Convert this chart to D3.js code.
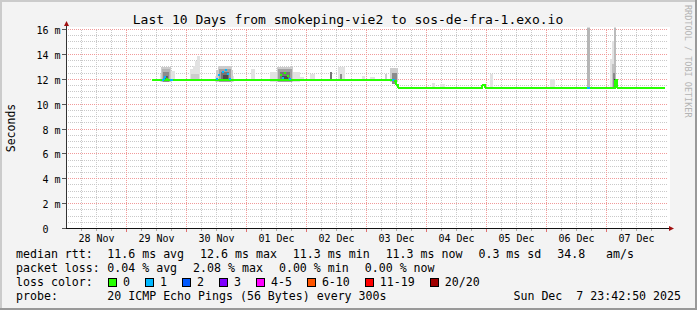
<!DOCTYPE html>
<html>
<head>
<meta charset="utf-8">
<script src="https://cdn.jsdelivr.net/npm/d3@7"></script>
<style>
  html, body { margin: 0; padding: 0; background: #f3f3f3; }
  svg { display: block; }
  text { font-family: "DejaVu Sans Mono", monospace; white-space: pre; }
</style>
</head>
<body>
<svg id="chart" width="697" height="310"></svg>
<script>
const title = "Last 10 Days from smokeping-vie2 to sos-de-fra-1.exo.io";
const startTime = "2025-11-27T23:42:50";
const endTime = "2025-12-07T23:42:50";
const yMax = 16;
const yLabel = "Seconds";

// median rtt in ms, step after: [time, ms, lost pings]
const median = [
  ["2025-11-29T10:00", 11.9, 0],
  ["2025-11-29T14:10", 11.9, 1],
  ["2025-11-29T14:50", 11.9, 0],
  ["2025-11-29T17:20", 11.9, 1],
  ["2025-11-29T18:40", 11.9, 0],
  ["2025-12-03T10:00", 11.9, 1],
  ["2025-12-03T11:10", 11.85, 0],
  ["2025-12-03T11:50", 11.55, 0],
  ["2025-12-03T12:30", 11.3, 0],
  ["2025-12-04T22:00", 11.55, 0],
  ["2025-12-04T23:20", 11.3, 0],
  ["2025-12-06T16:00", 11.3, 1],
  ["2025-12-06T17:20", 11.3, 0],
  ["2025-12-07T03:20", 11.95, 0],
  ["2025-12-07T04:10", 11.3, 0],
  ["2025-12-07T23:20", 11.3, 0]
];

// single median readings inside the smoke: [time, ms, lost pings]
const lossMarks = [
  ["2025-11-29T14:50", 12.0, 1], ["2025-11-29T15:30", 12.2, 1], ["2025-11-29T16:20", 12.05, 0],
  ["2025-11-30T12:10", 12.06, 1], ["2025-11-30T13:05", 12.33, 1], ["2025-11-30T14:25", 12.6, 1],
  ["2025-11-30T15:45", 12.74, 1], ["2025-11-30T16:40", 12.4, 1], ["2025-11-30T17:30", 12.0, 1],
  ["2025-12-01T13:40", 12.34, 0], ["2025-12-01T14:40", 12.07, 1], ["2025-12-01T15:20", 12.52, 0],
  ["2025-12-01T16:40", 12.26, 0], ["2025-12-01T17:20", 11.99, 1]
];

// smoke bands: [from, to, low ms, high ms, density]
const smoke = [
  ["2025-11-29T13:30", "2025-11-29T18:10", 11.75, 12.4, 1],
  ["2025-11-29T13:50", "2025-11-29T17:50", 11.75, 13.0, 2],
  ["2025-11-29T14:10", "2025-11-29T17:20", 11.8, 12.8, 3],
  ["2025-11-29T14:40", "2025-11-29T17:00", 11.8, 12.55, 5],
  ["2025-11-29T15:00", "2025-11-29T16:40", 11.85, 12.3, 7],
  ["2025-11-29T17:50", "2025-11-29T19:20", 11.9, 12.7, 1],
  ["2025-11-30T01:20", "2025-11-30T02:30", 11.9, 12.8, 1],
  ["2025-11-30T02:30", "2025-11-30T03:20", 11.9, 13.05, 1],
  ["2025-11-30T03:20", "2025-11-30T04:10", 11.9, 13.45, 1],
  ["2025-11-30T04:10", "2025-11-30T05:20", 11.9, 13.85, 1],
  ["2025-11-30T01:40", "2025-11-30T05:00", 11.9, 12.45, 2],
  ["2025-11-30T11:20", "2025-11-30T19:00", 11.75, 12.3, 1],
  ["2025-11-30T11:50", "2025-11-30T18:40", 11.75, 12.75, 2],
  ["2025-11-30T12:30", "2025-11-30T18:10", 11.8, 13.05, 2],
  ["2025-11-30T13:10", "2025-11-30T17:40", 11.8, 12.85, 4],
  ["2025-11-30T13:50", "2025-11-30T17:00", 11.85, 12.6, 6],
  ["2025-11-30T14:30", "2025-11-30T16:30", 11.85, 12.35, 8],
  ["2025-12-01T01:40", "2025-12-01T03:20", 11.9, 12.8, 1],
  ["2025-12-01T09:20", "2025-12-01T21:20", 11.8, 12.6, 1],
  ["2025-12-01T12:00", "2025-12-01T18:40", 11.8, 13.0, 2],
  ["2025-12-01T12:40", "2025-12-01T18:00", 11.8, 12.8, 4],
  ["2025-12-01T13:20", "2025-12-01T17:20", 11.85, 12.55, 6],
  ["2025-12-01T14:00", "2025-12-01T16:40", 11.85, 12.3, 8],
  ["2025-12-01T21:20", "2025-12-01T23:00", 11.9, 12.2, 1],
  ["2025-12-02T01:20", "2025-12-02T03:20", 11.9, 12.4, 1],
  ["2025-12-02T09:20", "2025-12-02T10:10", 11.9, 12.55, 6],
  ["2025-12-02T12:30", "2025-12-02T15:20", 11.9, 13.0, 1],
  ["2025-12-02T13:20", "2025-12-02T14:10", 11.9, 12.4, 5],
  ["2025-12-02T22:10", "2025-12-02T23:20", 11.9, 12.25, 1],
  ["2025-12-03T01:20", "2025-12-03T03:20", 11.9, 12.2, 1],
  ["2025-12-03T07:20", "2025-12-03T08:10", 11.9, 12.45, 2],
  ["2025-12-03T09:20", "2025-12-03T12:30", 11.8, 12.9, 2],
  ["2025-12-03T10:10", "2025-12-03T12:10", 11.6, 12.5, 5],
  ["2025-12-04T02:00", "2025-12-04T03:20", 11.3, 11.7, 1],
  ["2025-12-04T05:20", "2025-12-04T07:20", 11.3, 11.6, 1],
  ["2025-12-05T01:20", "2025-12-05T02:30", 11.3, 12.4, 1],
  ["2025-12-06T01:20", "2025-12-06T03:20", 11.3, 12.0, 1],
  ["2025-12-06T16:00", "2025-12-06T17:20", 11.3, 16.5, 3],
  ["2025-12-07T01:20", "2025-12-07T02:10", 11.3, 13.6, 1],
  ["2025-12-07T02:10", "2025-12-07T03:50", 11.3, 15.05, 1],
  ["2025-12-07T02:10", "2025-12-07T03:20", 11.3, 13.2, 2.5],
  ["2025-12-07T02:40", "2025-12-07T03:20", 11.3, 12.5, 5],
  ["2025-12-07T03:00", "2025-12-07T03:50", 11.3, 16.5, 2.8],
  ["2025-12-07T03:00", "2025-12-07T03:50", 11.3, 12.0, 9]
];

const lossLabels = ["0", "1", "2", "3", "4-5", "6-10", "11-19", "20/20"];
const lossUpTo   = [0, 1, 2, 3, 5, 10, 19, 20];
const lossColors = ["#26ff00", "#00b8ff", "#0059ff", "#7e00ff", "#ff00ff", "#ff5500", "#ff0000", "#a00000"];

const medianStats = ["11.6 ms avg", "12.6 ms max", "11.3 ms min", "11.3 ms now", "0.3 ms sd", "34.8   am/s"];
const lossStats = ["0.04 % avg", "2.08 % max", "0.00 % min", "0.00 % now"];
const probeText = "20 ICMP Echo Pings (56 Bytes) every 300s";
const stampText = "Sun Dec  7 23:42:50 2025";
const watermark = "RRDTOOL / TOBI OETIKER";

const W = 697, H = 310;
const svg = d3.select("#chart");
const parse = s => new Date(s);

const x = d3.scaleTime().domain([parse(startTime), parse(endTime)]).range([65.8, 665.8]);
const y = d3.scaleLinear().domain([0, yMax]).range([228.5, 29.5]);
const px = v => Math.floor(v) + 0.5;
const shade = d3.scaleLinear().domain([1, 10]).range(["#e2e2e2", "#1e1e1e"]);
const lossColor = n => lossColors[lossUpTo.findIndex(m => n <= m)];

// canvas + 3d border
svg.append("rect").attr("width", W).attr("height", H).attr("fill", "#f3f3f3");
svg.append("rect").attr("x", 0).attr("y", 0).attr("width", W).attr("height", 2).attr("fill", "#cbcbcb");
svg.append("rect").attr("x", 0).attr("y", 0).attr("width", 2).attr("height", H).attr("fill", "#cbcbcb");
svg.append("rect").attr("x", 0).attr("y", H - 2).attr("width", W).attr("height", 2).attr("fill", "#999");
svg.append("rect").attr("x", W - 2).attr("y", 0).attr("width", 2).attr("height", H).attr("fill", "#999");

// plot area
svg.append("rect").attr("x", 66).attr("y", 27).attr("width", 604).attr("height", 202).attr("fill", "#fff");

const grid = svg.append("g").attr("shape-rendering", "crispEdges");
const [d0, d1] = x.domain();
const days = d3.timeDay.range(d0, d1);              // midnights in view
const minorX = d3.timeHour.every(6).range(d0, d1).filter(t => t.getHours() !== 0);
const majorX = days.filter(t => x(t) > 67);
const labelDays = days.map(t => d3.timeHour.offset(t, 12));
const minorY = d3.range(0.5, yMax, 0.5).filter(v => v % 2 !== 0);
const majorY = y.ticks(8).filter(v => v > 0);

grid.selectAll("line.mx").data(minorX).join("line")
  .attr("x1", d => px(x(d))).attr("x2", d => px(x(d)))
  .attr("y1", y(yMax)).attr("y2", y(0))
  .attr("stroke", "#c9c9c9").attr("stroke-dasharray", "1,1");
grid.selectAll("line.my").data(minorY).join("line")
  .attr("x1", 66).attr("x2", 668)
  .attr("y1", d => px(y(d))).attr("y2", d => px(y(d)))
  .attr("stroke", "#c9c9c9").attr("stroke-dasharray", "1,1");
grid.selectAll("line.Mx").data(majorX).join("line")
  .attr("x1", d => px(x(d))).attr("x2", d => px(x(d)))
  .attr("y1", y(yMax)).attr("y2", y(0))
  .attr("stroke", "#f19a9a").attr("stroke-dasharray", "1,1");
grid.selectAll("line.My").data(majorY).join("line")
  .attr("x1", 66).attr("x2", 668)
  .attr("y1", d => px(y(d))).attr("y2", d => px(y(d)))
  .attr("stroke", "#f19a9a").attr("stroke-dasharray", "1,1");

// clip
svg.append("clipPath").attr("id", "plotclip").append("rect")
  .attr("x", 66).attr("y", 27.5).attr("width", 602).attr("height", 201);

const plot = svg.append("g").attr("clip-path", "url(#plotclip)");

// smoke, light bands first
const smokeSorted = smoke.slice().sort((a, b) => a[4] - b[4]);
plot.append("g").attr("shape-rendering", "crispEdges")
  .selectAll("rect").data(smokeSorted).join("rect")
  .attr("x", d => Math.round(x(parse(d[0]))))
  .attr("width", d => Math.max(1, Math.round(x(parse(d[1]))) - Math.round(x(parse(d[0])))))
  .attr("y", d => Math.round(y(d[3])))
  .attr("height", d => Math.round(y(d[2])) - Math.round(y(d[3])))
  .attr("fill", d => shade(d[4]));

// median line, coloured by loss
const line = d3.line().curve(d3.curveStepAfter)
  .x(d => x(parse(d[0]))).y(d => y(d[1]));
plot.append("g").selectAll("path").data(d3.pairs(median)).join("path")
  .attr("d", d => line(d))
  .attr("fill", "none")
  .attr("stroke", d => lossColor(d[0][2]))
  .attr("stroke-width", 2)
  .attr("shape-rendering", "crispEdges");

plot.append("g").selectAll("rect").data(lossMarks).join("rect")
  .attr("x", d => Math.round(x(parse(d[0]))) - 1)
  .attr("y", d => Math.round(y(d[1])) - 1)
  .attr("width", 2).attr("height", 2)
  .attr("fill", d => lossColor(d[2]));

// axes
const axes = svg.append("g").attr("shape-rendering", "crispEdges");
axes.selectAll("line.tm").data(minorX).join("line")
  .attr("x1", d => px(x(d))).attr("x2", d => px(x(d)))
  .attr("y1", 229).attr("y2", 231).attr("stroke", "#aaa");
axes.selectAll("line.tM").data(majorX).join("line")
  .attr("x1", d => px(x(d))).attr("x2", d => px(x(d)))
  .attr("y1", 229).attr("y2", 232).attr("stroke", "#e07070");
axes.selectAll("line.ty").data(y.ticks(8)).join("line")
  .attr("x1", 62).attr("x2", 66)
  .attr("y1", d => px(y(d))).attr("y2", d => px(y(d)))
  .attr("stroke", "#555");
axes.append("line").attr("x1", 66.5).attr("x2", 66.5).attr("y1", 229).attr("y2", 26).attr("stroke", "#333");
axes.append("line").attr("x1", 66).attr("x2", 669).attr("y1", 228.5).attr("y2", 228.5).attr("stroke", "#111");
svg.append("path").attr("d", "M64,26 L69,26 L66.5,21 Z").attr("fill", "#a01010");
svg.append("path").attr("d", "M669,226 L669,231 L674,228.5 Z").attr("fill", "#a01010");

// tick labels
svg.append("g").selectAll("text").data(y.ticks(8)).join("text")
  .attr("x", 36.5).attr("y", d => px(y(d)) + 4)
  .attr("font-size", 10).attr("fill", "#000")
  .text(d => String(d).padStart(2) + (d === 0 ? "  " : " m"));

const fmt = d3.timeFormat("%d %b");
svg.append("g").selectAll("text").data(labelDays).join("text")
  .attr("x", d => x(d)).attr("y", 241.5)
  .attr("text-anchor", "middle").attr("font-size", 10).attr("fill", "#000")
  .text(d => fmt(d));

// title, y label, watermark
svg.append("text").attr("x", 348).attr("y", 24).attr("text-anchor", "middle")
  .attr("font-size", 13).attr("fill", "#000").text(title);
svg.append("text").attr("transform", "translate(14.5,128) rotate(-90)")
  .attr("text-anchor", "middle").attr("font-size", 11.5).attr("fill", "#000").text(yLabel);
svg.append("text").attr("transform", "translate(685,5) rotate(90)")
  .attr("font-size", 8.5).attr("fill", "#b4b4b4").text(watermark);

// legend
const LX = 16, VX = 107.3, GAP = 16, FS = 11.6;
function row(label, items, yb) {
  svg.append("text").attr("x", LX).attr("y", yb).attr("font-size", FS).text(label);
  let cx = VX;
  items.forEach(s => {
    const t = svg.append("text").attr("x", cx).attr("y", yb).attr("font-size", FS).text(s);
    cx += t.node().getComputedTextLength() + GAP;
  });
}
row("median rtt:", medianStats, 258);
row("packet loss:", lossStats, 272);

svg.append("text").attr("x", LX).attr("y", 286).attr("font-size", FS).text("loss color:");
let lx = 108;
lossLabels.forEach((lab, i) => {
  svg.append("rect").attr("x", lx + 0.5).attr("y", 278.5).attr("width", 8).attr("height", 8)
    .attr("fill", lossColors[i]).attr("stroke", "#000").attr("shape-rendering", "crispEdges");
  const t = svg.append("text").attr("x", lx + 15).attr("y", 286).attr("font-size", FS).text(lab);
  lx += 15 + t.node().getComputedTextLength() + 15;
});

svg.append("text").attr("x", LX).attr("y", 300).attr("font-size", FS).text("probe:");
svg.append("text").attr("x", VX).attr("y", 300).attr("font-size", FS).text(probeText);
svg.append("text").attr("x", 681).attr("y", 300).attr("text-anchor", "end").attr("font-size", FS).text(stampText);
</script>
</body>
</html>
